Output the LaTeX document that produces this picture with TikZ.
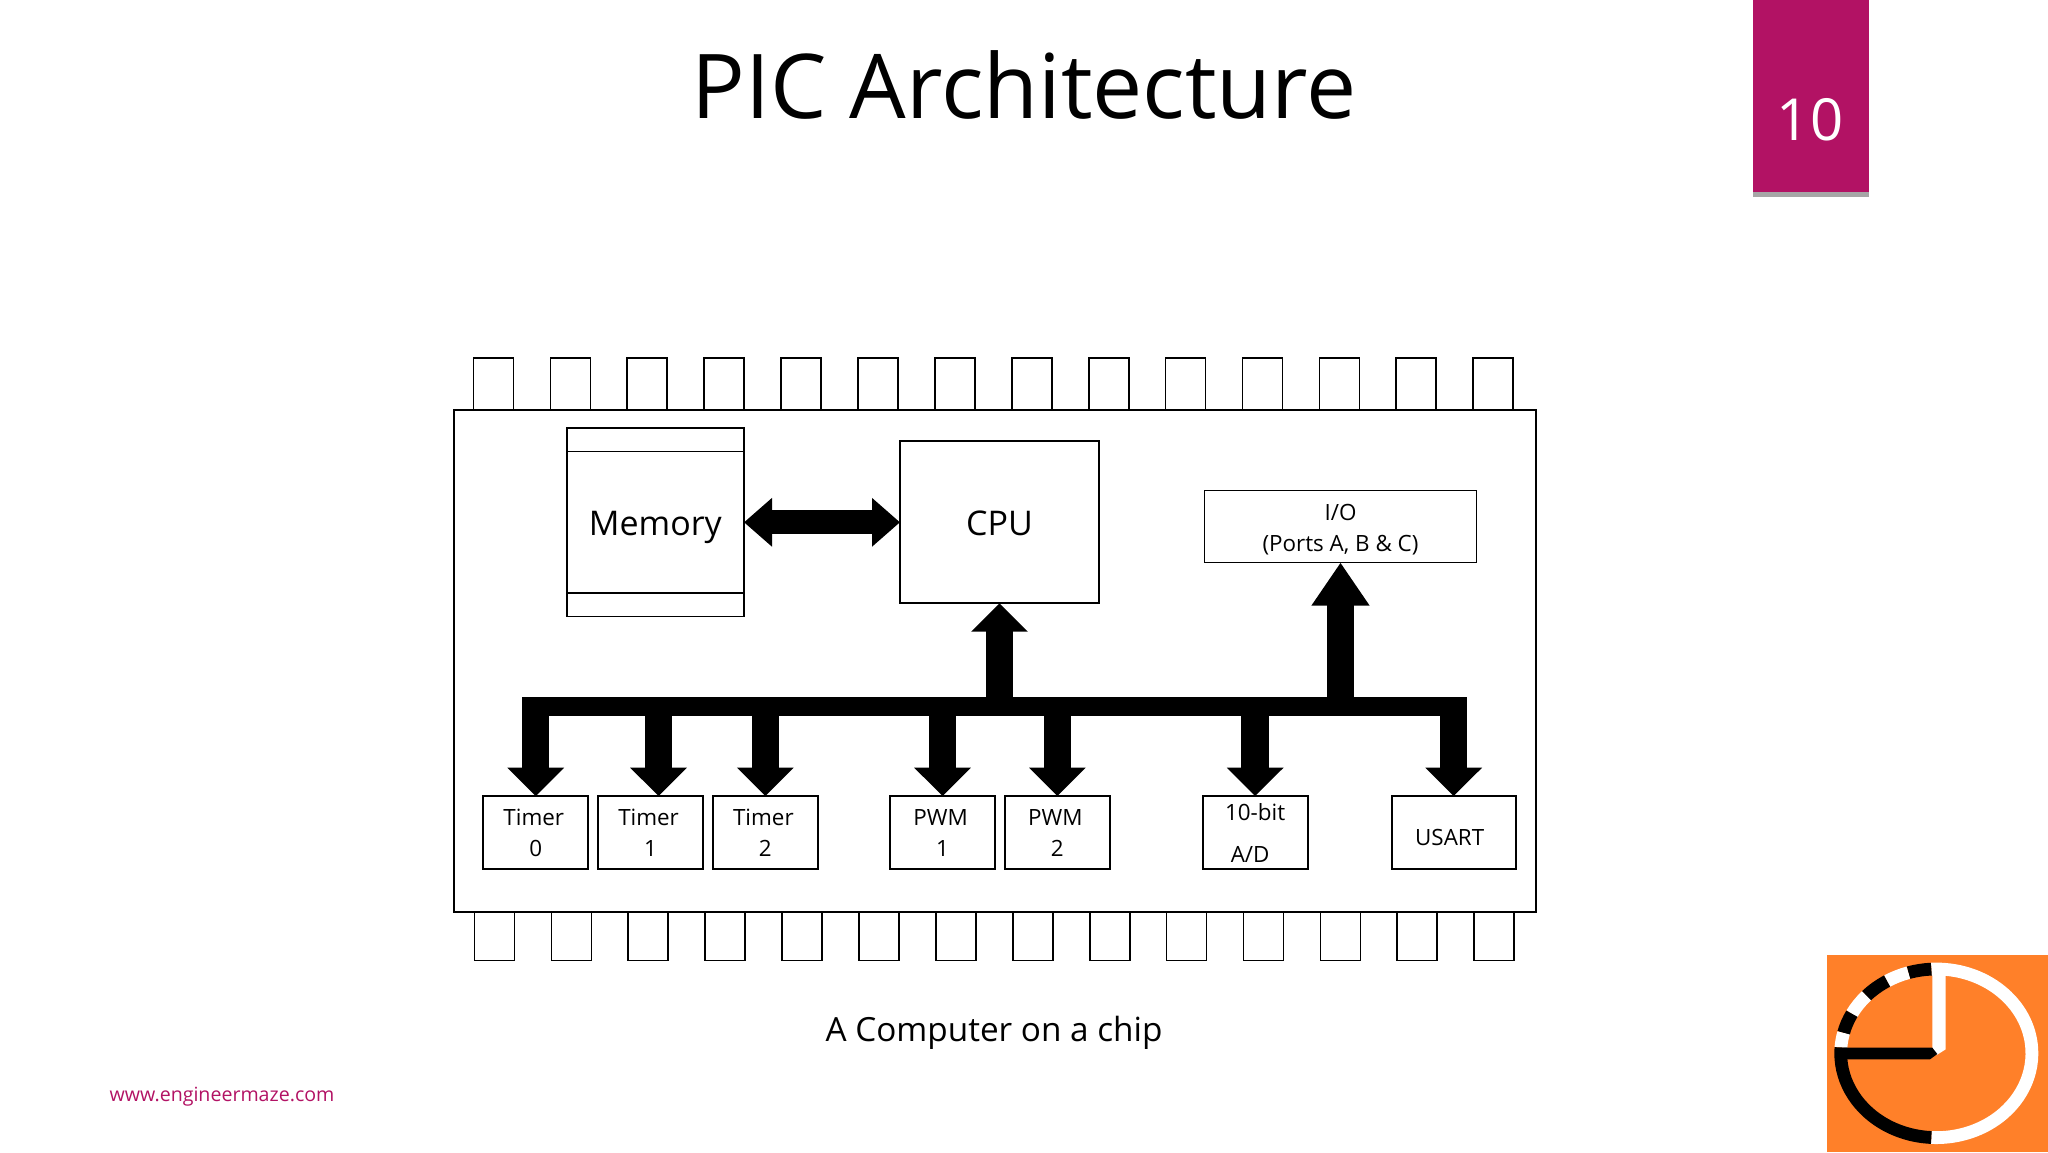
\documentclass[tikz,border=0pt]{standalone}
\usepackage{fontspec}
\setmainfont{Open Sans}
\usetikzlibrary{positioning, arrows.meta}

\definecolor{tabpink}{RGB}{178,18,100}
\definecolor{logoorange}{RGB}{255,128,41}

\begin{document}
\begin{tikzpicture}[
    x=0.5pt, y=-0.5pt,
    % Styles
    block/.style={
        rectangle,
        draw,
        fill=white,
        line width=0.85pt,
        outer sep=0pt,
        inner sep=0pt,
        align=center
    },
    leg/.style={
        block,
        minimum width=20pt,
        anchor=south
    },
    small/.style={
        block,
        minimum width=52.5pt,
        minimum height=36.4pt,
        font=\fontsize{11.2}{15.5}\selectfont
    },
    big/.style={
        block,
        text height=13.2pt,
        text depth=0pt,
        font=\fontsize{17}{20}\selectfont
    },
    bigarrow/.style={
        line width=13.7pt,
        -{Triangle[length=14.2pt,width=27.5pt]}
    },
    tallarrow/.style={
        line width=13.7pt,
        -{Triangle[length=21.5pt,width=27.5pt]}
    },
    twoarrow/.style={
        line width=12pt,
        {Triangle[length=14pt,width=23.5pt]}-{Triangle[length=14pt,width=23.5pt]}
    },
    segment/.style={
        line width=6.4pt
    }
]
    \useasboundingbox (0,0) rectangle (2048,1152);

    % Chip legs
    \foreach \i in {0,...,13} {
        \node[leg, minimum height=26pt] (top\i) at (493.5+76.9*\i, 410) {};
        \node[leg, minimum height=24pt, anchor=north] (bot\i) at (494.5+76.9*\i, 912.5) {};
    }
    \node[block, line width=1pt, minimum width=541.2pt, minimum height=251.2pt] (chip) at (995, 661.2) {};

    % Layers
    \node[big, minimum width=88.6pt, minimum height=94.3pt] (memory) at (655.4, 522.3) {Memory};
    \node[big, minimum width=99.5pt, minimum height=81pt] (cpu) at (999.5, 522.3) {CPU};
    \node[small, minimum width=136pt, minimum height=36pt] (io) at (1340.5, 526.5) {\rule{0pt}{11.5pt}I/O\\(Ports A, B \& C)};

    \node[small] (timer0) at (535.75, 832.5) {Timer\hspace*{2pt}\\0};
    \node[small, right=4.9pt of timer0] (timer1) {Timer\hspace*{2pt}\\1};
    \node[small, right=4.9pt of timer1] (timer2) {Timer\hspace*{2pt}\\2};
    \node[small, right=36.1pt of timer2] (pwm1) {PWM\hspace*{2pt}\\1};
    \node[small, right=4.9pt of pwm1] (pwm2) {PWM\hspace*{2pt}\\2};
    \node[small, right=46.4pt of pwm2] (adc) {10-bit\\[5.5pt]A/D\hspace*{5pt}};
    \node[small, minimum width=62pt, right=42pt of adc, text height=13pt] (usart) {USART\hspace*{4pt}};

    \node[fill=black, inner sep=0pt, outer sep=0pt, minimum width=472.5pt, minimum height=9.7pt] (bus) at (994.5, 706.6) {};

    % Memory lines
    \draw[line width=0.85pt] ([yshift=-11.7pt]memory.north west) -- ([yshift=-11.7pt]memory.north east);
    \draw[line width=0.85pt] ([yshift=11.8pt]memory.south west) -- ([yshift=11.8pt]memory.south east);

    % Paths
    \draw[twoarrow] (memory) -- (cpu);
    \draw[bigarrow] (bus.center -| cpu.south) -- (cpu.south);
    \draw[tallarrow] (bus.center -| io.south) -- (io.south);
    \draw[bigarrow] (bus.center -| timer0.north) -- (timer0.north);
    \draw[bigarrow] ([xshift=4pt]bus.center -| timer1.north) -- ([xshift=4pt]timer1.north);
    \draw[bigarrow] (bus.center -| timer2.north) -- (timer2.north);
    \draw[bigarrow] (bus.center -| pwm1.north) -- (pwm1.north);
    \draw[bigarrow] (bus.center -| pwm2.north) -- (pwm2.north);
    \draw[bigarrow] (bus.center -| adc.north) -- (adc.north);
    \draw[bigarrow] (bus.center -| usart.north) -- (usart.north);

    % Slide texts
    \node[font=\fontsize{44.7}{52}\selectfont] (title) at (1024, 85) {PIC Architecture};
    \node[font=\fontsize{16.65}{20}\selectfont] (caption) at (994, 1033) {A Computer on a chip};
    \node[font=\fontsize{9.8}{12}\selectfont, text=tabpink] (site) at (222, 1096.5) {www.engineermaze.com};

    % Number tab
    \node[fill=black!35, minimum width=58pt, minimum height=98.5pt, inner sep=0pt, anchor=north] (tabshadow) at (1811, 0) {};
    \node[fill=tabpink, minimum width=58pt, minimum height=96pt, inner sep=0pt, anchor=north] (tab) at (1811, 0) {};
    \node[font=\fontsize{29}{36}\selectfont, text=white] (number) at (1810, 119.5) {10};

    % Logo
    \fill[logoorange] (1827,955) rectangle (2048,1152);
    \coordinate (hub) at (1936.3, 1053.3);
    \draw[segment, white] ([shift={(93:47.8pt and 42.15pt)}]hub) arc[start angle=93, end angle=-93, x radius=47.8pt, y radius=42.15pt];
    \draw[segment, black] ([shift={(93:47.8pt and 42.15pt)}]hub) arc[start angle=93, end angle=107, x radius=47.8pt, y radius=42.15pt];
    \draw[segment, white] ([shift={(107:47.8pt and 42.15pt)}]hub) arc[start angle=107, end angle=121, x radius=47.8pt, y radius=42.15pt];
    \draw[segment, black] ([shift={(121:47.8pt and 42.15pt)}]hub) arc[start angle=121, end angle=137, x radius=47.8pt, y radius=42.15pt];
    \draw[segment, white] ([shift={(137:47.8pt and 42.15pt)}]hub) arc[start angle=137, end angle=152, x radius=47.8pt, y radius=42.15pt];
    \draw[segment, black] ([shift={(152:47.8pt and 42.15pt)}]hub) arc[start angle=152, end angle=166, x radius=47.8pt, y radius=42.15pt];
    \draw[segment, white] ([shift={(166:47.8pt and 42.15pt)}]hub) arc[start angle=166, end angle=176, x radius=47.8pt, y radius=42.15pt];
    \draw[segment, black] ([shift={(176:47.8pt and 42.15pt)}]hub) arc[start angle=176, end angle=267, x radius=47.8pt, y radius=42.15pt];
    \fill[white] (1932.3,963) -- (1945.7,963) -- (1945.7,1049.3) -- (1936.7,1055) -- (1932.3,1047.7) -- cycle;
    \fill[black] (1843.3,1047.7) -- (1932.3,1047.7) -- (1937.3,1054) -- (1930,1059.3) -- (1843.3,1059.3) -- cycle;
\end{tikzpicture}
\end{document}
